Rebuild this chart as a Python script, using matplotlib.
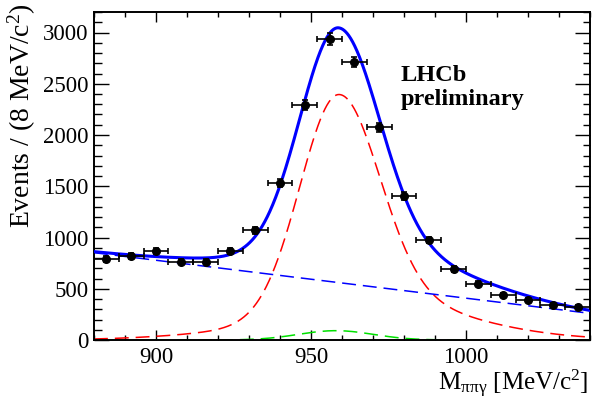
import numpy as np
import matplotlib
matplotlib.use("Agg")
import matplotlib.pyplot as plt
from matplotlib.ticker import MultipleLocator

# ---- binned data: M(pi pi gamma) candidates, 8 MeV/c^2 bins ----
bin_centres = [884, 892, 900, 908, 916, 924, 932, 940, 948, 956,
               964, 972, 980, 988, 996, 1004, 1012, 1020, 1028, 1036]
events = [788, 820, 872, 765, 765, 872, 1071, 1533, 2292, 2937,
          2711, 2076, 1407, 976, 693, 550, 439, 387, 345, 322]
bin_width = 8.0

# ---- fit model parameters ----
peak_mass = 959.0
signal_yield_peak = 2395.0
# (core sigma, core fraction, tail sigma) on each side of the peak
signal_left = (12.5, 0.926, 33.0)
signal_right = (13.0, 0.80, 34.0)
# linear combinatorial background, values at the two ends of the range
background_ends = (852.0, 260.0)
# small peaking component
peaking_amp, peaking_mass, peaking_sigma = 91.0, 958.0, 12.0

x_range = (880.0, 1040.0)
y_range = (0.0, 3200.0)

plt.rcParams["font.family"] = ["Liberation Serif", "DejaVu Serif"]
plt.rcParams["mathtext.fontset"] = "custom"
plt.rcParams["mathtext.rm"] = "Liberation Serif"
plt.rcParams["mathtext.it"] = "Liberation Serif:italic"
plt.rcParams["lines.scale_dashes"] = False


def double_gauss(d, core_sigma, core_frac, tail_sigma):
    return (core_frac * np.exp(-0.5 * (d / core_sigma) ** 2)
            + (1 - core_frac) * np.exp(-0.5 * (d / tail_sigma) ** 2))


def signal_shape(x):
    d = x - peak_mass
    return signal_yield_peak * np.where(d < 0,
                                        double_gauss(d, *signal_left),
                                        double_gauss(d, *signal_right))


def background_shape(x):
    b0, b1 = background_ends
    return b0 + (b1 - b0) * (x - x_range[0]) / (x_range[1] - x_range[0])


def peaking_shape(x):
    return peaking_amp * np.exp(-0.5 * ((x - peaking_mass) / peaking_sigma) ** 2)


xs = np.linspace(x_range[0], x_range[1], 1000)
sig = signal_shape(xs)
bkg = background_shape(xs)
pk = peaking_shape(xs)
total = sig + bkg + pk

fig = plt.figure(figsize=(5.93, 4.01), dpi=100)
ax = fig.add_axes([94 / 593, 61 / 401, 496 / 593, 328 / 401])

dash = (0, (10.0, 5.0))
ax.plot(xs, pk, color="#00e000", lw=1.1, linestyle=dash, zorder=2)
ax.plot(xs, sig, color="#ff0000", lw=1.1, linestyle=dash, zorder=2)
ax.plot(xs, bkg, color="#0000ff", lw=1.1, linestyle=dash, zorder=2)
ax.plot(xs, total, color="#0000ff", lw=2.2, zorder=3)

ax.errorbar(bin_centres, events, xerr=bin_width / 2, yerr=np.sqrt(events),
            fmt="o", color="black", ms=5.5, elinewidth=1.2, capsize=2,
            capthick=1.2, zorder=4)

ax.set_xlim(*x_range)
ax.set_ylim(*y_range)

ax.xaxis.set_major_locator(MultipleLocator(50))
ax.xaxis.set_minor_locator(MultipleLocator(10))
ax.yaxis.set_major_locator(MultipleLocator(500))
ax.yaxis.set_minor_locator(MultipleLocator(100))

ax.tick_params(which="both", direction="in", top=True, right=True,
               labelsize=16.5, width=1.0)
ax.tick_params(axis="x", which="major", length=7.2, pad=5)
ax.tick_params(axis="x", which="minor", length=3.6)
ax.tick_params(axis="y", which="major", length=10.8, pad=4)
ax.tick_params(axis="y", which="minor", length=5.4)
for s in ax.spines.values():
    s.set_linewidth(1.4)

fig.text(588 / 593, 1 - 390 / 401, r"M$_{\mathrm{\pi\pi\gamma}}$ [MeV/c$^{2}$]",
         ha="right", va="baseline", fontsize=18)
fig.text(22 / 593, 1 - 3 / 401, r"Events / (8 MeV/c$^{2}$)",
         rotation=90, ha="center", va="top", fontsize=20)

fig.text(401 / 593, 1 - 81 / 401, "LHCb", fontsize=17.5, fontweight="bold",
         ha="left", va="baseline")
fig.text(401 / 593, 1 - 105 / 401, "preliminary", fontsize=17.5,
         fontweight="bold", ha="left", va="baseline")

fig.savefig("out.png", dpi=100)
